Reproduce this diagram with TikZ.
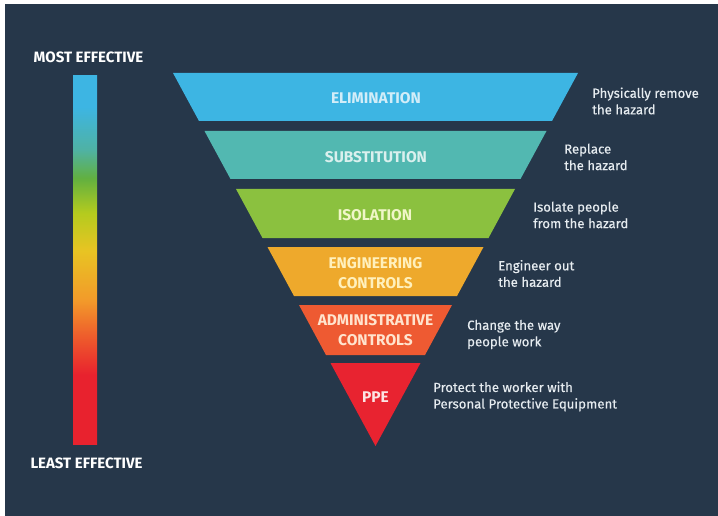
\documentclass[tikz,border=0pt]{standalone}
\usepackage{fontspec}
\setmainfont{Fira Sans}
\newfontfamily\descfont[FakeBold=0.35]{Fira Sans}
\definecolor{bgc}{HTML}{26374A}
\definecolor{celim}{HTML}{3DB5E3}
\definecolor{csubs}{HTML}{52B8B1}
\definecolor{ciso}{HTML}{8BC13F}
\definecolor{ceng}{HTML}{EEA92C}
\definecolor{cadm}{HTML}{EE5A32}
\definecolor{cppe}{HTML}{E82330}
\definecolor{telim}{HTML}{D2EDF8}
\definecolor{tsubs}{HTML}{DAF0EE}
\definecolor{tiso}{HTML}{F0F6C8}
\definecolor{teng}{HTML}{FFF0BC}
\definecolor{tadm}{HTML}{FFE4CE}
\definecolor{tppe}{HTML}{FCE4E4}
\definecolor{desctxt}{HTML}{E6ECF0}
\definecolor{gblu}{HTML}{3DB5E3}
\definecolor{gtea}{HTML}{4FB2A4}
\definecolor{ggrn}{HTML}{62B040}
\definecolor{gyg}{HTML}{B4CB1E}
\definecolor{gyel}{HTML}{E8C423}
\definecolor{gora}{HTML}{F29A2A}
\definecolor{gorr}{HTML}{EE5E2C}
\definecolor{gred}{HTML}{E8222E}
\pgfdeclareverticalshading{effbar}{100bp}{color(0bp)=(gred); color(34.4bp)=(gred); color(39.8bp)=(gorr); color(44.5bp)=(gora); color(51.3bp)=(gyel); color(56.4bp)=(gyg); color(61.1bp)=(ggrn); color(65bp)=(gtea); color(70.8bp)=(gblu); color(100bp)=(gblu)}
\tikzset{
  lab/.style={font=\bfseries\fontsize{15.5}{20}\selectfont, align=center, inner sep=0pt},
  desc/.style={font=\descfont\fontsize{13.2}{16.5}\selectfont, text=desctxt, align=left, anchor=west, inner sep=0pt},
  head/.style={font=\bfseries\fontsize{15}{17}\selectfont, text=white, inner sep=0pt}
}
\begin{document}
\begin{tikzpicture}[x=1pt,y=-1pt]
\useasboundingbox (0,0) rectangle (718,516);
\fill[white] (-2,-2) rectangle (720,518);
\fill[bgc] (5,4) rectangle (720,518);
% bands
\fill[celim] (173,73) -- (578,73) -- (552,121) -- (199,121) -- cycle;
\fill[csubs] (204.5,131) -- (546.5,131) -- (520.5,179) -- (230.5,179) -- cycle;
\fill[ciso] (236,189) -- (515,189) -- (488.5,238) -- (262.5,238) -- cycle;
\fill[ceng] (267.5,247) -- (483.5,247) -- (457,296) -- (294,296) -- cycle;
\fill[cadm] (299,305) -- (452,305) -- (425,355) -- (326,355) -- cycle;
\fill[cppe] (330.5,363) -- (420.5,363) -- (375.5,446) -- cycle;
% band labels
\node[lab, text=telim] (elim) at (376,98) {ELIMINATION};
\node[lab, text=tsubs] (subs) at (376,157) {SUBSTITUTION};
\node[lab, text=tiso] (iso) at (375,215) {ISOLATION};
\node[lab, text=teng] (eng) at (375.5,273) {ENGINEERING\\CONTROLS};
\node[lab, text=tadm] (adm) at (375.5,330) {ADMINISTRATIVE\\CONTROLS};
\node[lab, text=tppe] (ppe) at (375.5,397) {PPE};
% descriptions
\node[desc] (delim) at (592,101) {Physically remove\\the hazard};
\node[desc] (dsubs) at (564,157) {Replace\\the hazard};
\node[desc] (diso) at (533,215) {Isolate people\\from the hazard};
\node[desc] (deng) at (498,273.5) {Engineer out\\the hazard};
\node[desc] (dadm) at (467,334.5) {Change the way\\people work};
\node[desc] (dppe) at (433,396.5) {Protect the worker with\\Personal Protective Equipment};
% effectiveness bar
\shade[shading=effbar] (73,76) rectangle (97,444);
\node[head] (most) at (88.5,57) {MOST EFFECTIVE};
\node[head] (least) at (86.5,463) {LEAST EFFECTIVE};
\end{tikzpicture}
\end{document}
